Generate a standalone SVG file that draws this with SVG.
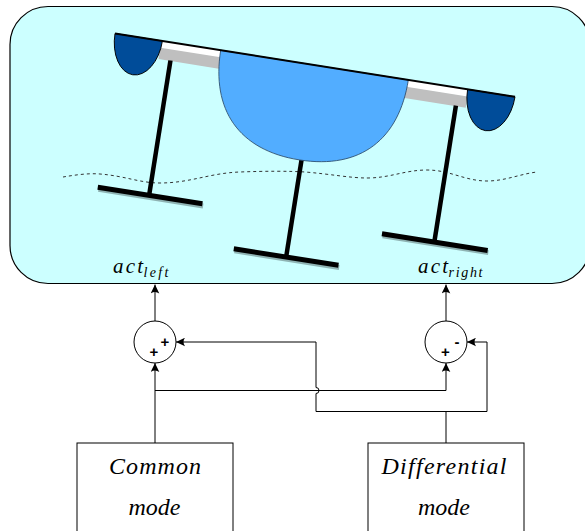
<svg xmlns="http://www.w3.org/2000/svg" width="585" height="531" viewBox="0 0 585 531">
  <defs>
    <style>
      .panel { fill: #ccffff; stroke: #000; stroke-width: 1.2; }
      .float { fill: #004c99; stroke: #000; stroke-width: 0.9; }
      .hull { fill: #52adff; stroke: #2a4a6a; stroke-width: 0.8; }
      .rod { fill: #bfbfbf; }
      .strut { stroke: #000; stroke-width: 4.5; fill: none; }
      .foil { stroke: #000; stroke-width: 5; fill: none; }
      .foil-shadow { stroke: #7fa0a0; stroke-width: 5; fill: none; opacity: 0.8; }
      .wave { fill: none; stroke: #333; stroke-width: 1; stroke-dasharray: 3 3; }
      .wire { fill: none; stroke: #000; stroke-width: 1; }
      .sum { fill: #fff; stroke: #000; stroke-width: 1; }
      .box { fill: #fff; stroke: #000; stroke-width: 1; }
      .math { font-family: "Liberation Serif", "Times New Roman", serif; font-style: italic; fill: #000; }
      .sign { font-family: "Liberation Sans", Arial, sans-serif; font-weight: bold; font-size: 15px; fill: #000; text-anchor: middle; }
    </style>
    <marker id="arrow" markerUnits="userSpaceOnUse" markerWidth="9" markerHeight="9" refX="9" refY="4.5" orient="auto">
      <path d="M9,4.5 L0,0.2 Q3,4.5 0,8.8 Z" fill="#000"/>
    </marker>
  </defs>

  <!-- vessel panel -->
  <g id="vessel">
    <rect class="panel" x="10" y="6.5" width="580" height="277" rx="38" ry="38"/>

    <!-- water surface -->
    <path class="wave" d="M63,177 C75,175 88,173 100,174 C125,176 140,183 160,183 C190,183 210,173 240,172 C265,171 290,171 305,172 C330,174 350,178 367,178 C390,178 405,170 427,170 C450,170 465,181 487,181 C505,181 520,174 537,172"/>

    <!-- craft drawn along the deck axis -->
    <g transform="translate(115,33.5) rotate(9)">
      <rect x="0" y="0" width="405" height="7.5" fill="#fff"/>
      <rect class="rod" x="47" y="7" width="61" height="11.5"/>
      <rect class="rod" x="296" y="7" width="62" height="11.5"/>

      <!-- struts -->
      <line class="strut" x1="59" y1="18" x2="59" y2="154"/>
      <line class="strut" x1="348" y1="18" x2="348" y2="155.5"/>
      <line class="strut" x1="204" y1="90" x2="204" y2="193"/>

      <!-- foils -->
      <line class="foil-shadow" x1="8" y1="156.5" x2="114" y2="156.5"/>
      <line class="foil-shadow" x1="296" y1="158" x2="403" y2="158"/>
      <line class="foil-shadow" x1="152" y1="196" x2="258" y2="196"/>
      <line class="foil" x1="7" y1="154.5" x2="113" y2="154.5"/>
      <line class="foil" x1="295" y1="156" x2="402" y2="156"/>
      <line class="foil" x1="151" y1="194" x2="257" y2="194"/>

      <!-- hulls -->
      <path class="hull" d="M107,0 C107,60 140,96 202,96 C264,96 297,60 297,0 Z"/>
      <path class="float" d="M0,0 A24,38 0 0 0 48,0 Z"/>
      <path class="float" d="M357,0 A24,38 0 0 0 405,0 Z"/>

      <!-- deck -->
      <line x1="0" y1="0" x2="405" y2="0" stroke="#000" stroke-width="2"/>
    </g>

    <text class="math" x="113" y="272.5" font-size="21" textLength="30" lengthAdjust="spacing">act</text>
    <text class="math" x="143.5" y="276.5" font-size="14" textLength="25" lengthAdjust="spacing">left</text>
    <text class="math" x="418" y="272.5" font-size="21" textLength="30" lengthAdjust="spacing">act</text>
    <text class="math" x="448.5" y="276.5" font-size="14" textLength="34" lengthAdjust="spacing">right</text>
  </g>

  <!-- connectors -->
  <g id="connectors">
    <line class="wire" x1="155" y1="321" x2="155" y2="284.5" marker-end="url(#arrow)"/>
    <line class="wire" x1="446" y1="321" x2="446" y2="284.5" marker-end="url(#arrow)"/>
    <line class="wire" x1="155" y1="443" x2="155" y2="363" marker-end="url(#arrow)"/>
    <path class="wire" d="M155,390.5 H446 V363" marker-end="url(#arrow)"/>
    <path class="wire" d="M446,443 V411.5"/>
    <path class="wire" d="M316,411.5 H487 V342 H467" marker-end="url(#arrow)"/>
    <path class="wire" d="M316,411.5 V393.5 A3,3 0 0 0 316,387.5 V342 H176" marker-end="url(#arrow)"/>
  </g>

  <!-- summing junctions -->
  <g id="sum-left">
    <circle class="sum" cx="155" cy="342" r="21"/>
    <text class="sign" x="165" y="347">+</text>
    <text class="sign" x="154" y="357">+</text>
  </g>
  <g id="sum-right">
    <circle class="sum" cx="446" cy="342" r="21"/>
    <text class="sign" x="457" y="346.5">-</text>
    <text class="sign" x="445.5" y="357">+</text>
  </g>

  <!-- mode blocks -->
  <g id="common-mode">
    <rect class="box" x="77" y="443" width="156" height="100"/>
    <text class="math" x="155" y="473.5" font-size="24" text-anchor="middle" textLength="92" lengthAdjust="spacing">Common</text>
    <text class="math" x="154.5" y="515" font-size="24" text-anchor="middle" textLength="52" lengthAdjust="spacing">mode</text>
  </g>
  <g id="differential-mode">
    <rect class="box" x="368" y="443" width="156" height="100"/>
    <text class="math" x="444" y="474" font-size="24" text-anchor="middle" textLength="125" lengthAdjust="spacing">Differential</text>
    <text class="math" x="444" y="515" font-size="24" text-anchor="middle" textLength="52" lengthAdjust="spacing">mode</text>
  </g>
</svg>
